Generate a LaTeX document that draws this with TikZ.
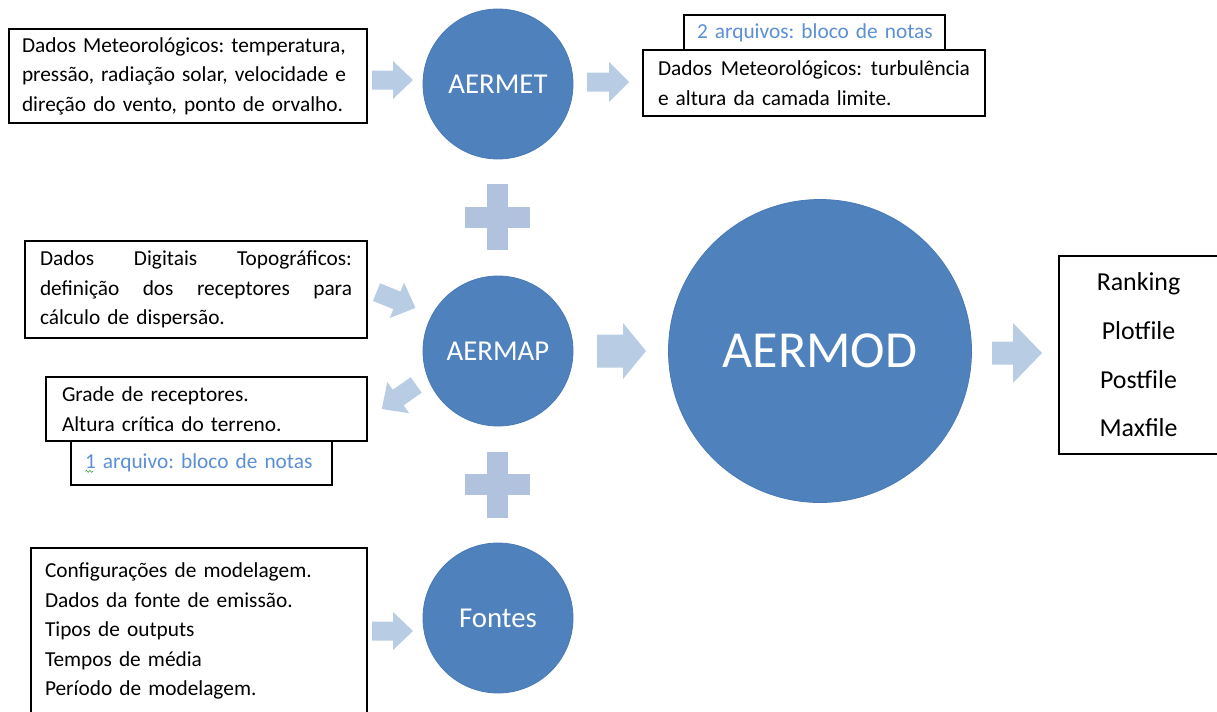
\documentclass[tikz,border=0pt]{standalone}
\usepackage{fontspec}
\setmainfont{Carlito}
\frenchspacing
\usetikzlibrary{calc,decorations.pathmorphing}
\newdimen\pxu \pxu=0.75pt
\definecolor{circfill}{HTML}{4F81BD}
\definecolor{circline}{HTML}{4A7AB6}
\definecolor{arrowc}{HTML}{B8CCE4}
\definecolor{plusc}{HTML}{B0C2DE}
\definecolor{notec}{HTML}{5B8FD6}
\definecolor{squig}{HTML}{4CA64C}
% #1 cx, #2 cy, #3 angle, #4 length, #5 head length, #6 shaft width, #7 head width
\newcommand{\blockarrow}[7]{%
  \begin{scope}[shift={(#1,#2)},rotate=#3]
    \fill[arrowc] ({-#4/2},{-#6/2}) -- ({#4/2-#5},{-#6/2}) -- ({#4/2-#5},{-#7/2})
      -- ({#4/2},0) -- ({#4/2-#5},{#7/2}) -- ({#4/2-#5},{#6/2}) -- ({-#4/2},{#6/2}) -- cycle;
  \end{scope}}
% #1 cx, #2 cy
\newcommand{\plussign}[2]{%
  \fill[plusc] ({#1-32.5},{#2-10.5}) rectangle ({#1+32.5},{#2+10.5});
  \fill[plusc] ({#1-10.5},{#2-33}) rectangle ({#1+10.5},{#2+33});}
\newcommand{\jline}[1]{\leavevmode\hbox to 312\pxu{#1}}
\tikzset{
  proc/.style={circle, fill=circfill, draw=circline, line width=0.6pt, text=white,
    inner sep=0pt, font=\fontsize{21.6}{24}\selectfont},
  txtbox/.style={draw=black, line width=0.9pt, fill=white, align=left, inner ysep=0pt,
    font=\fontsize{16}{22.1}\selectfont},
  notebox/.style={txtbox, text=notec},
  outbox/.style={draw=black, line width=0.9pt, fill=white, align=center, inner sep=0pt,
    font=\fontsize{19.4}{36.5}\selectfont}
}
\begin{document}
\begin{tikzpicture}[x=0.75pt,y=-0.75pt]
\useasboundingbox (0,0) rectangle (1217,711);
\clip (0,0) rectangle (1217,711);

% process circles
\node[proc, minimum size=150\pxu] (aermet) at (498,84) {AERMET};
\node[proc, minimum size=150\pxu] (aermap) at (498,351) {AERMAP};
\node[proc, minimum size=150\pxu] (fontes) at (498,618) {Fontes};
\node[proc, minimum size=303\pxu, font=\fontsize{39}{42}\selectfont] (aermod) at (820,351) {AERMOD};

% plus signs
\plussign{497.5}{217}
\plussign{497.5}{484.5}

% block arrows
\blockarrow{392.5}{80}{0}{41}{20}{19}{38}
\blockarrow{608}{82}{0}{42}{20}{19}{40}
\blockarrow{396}{300}{-22}{42}{20}{19}{38}
\blockarrow{399}{397}{215}{42}{20}{19}{38}
\blockarrow{621.5}{351}{0}{49}{23}{33}{56}
\blockarrow{392.5}{631}{0}{41}{20}{19}{38}
\blockarrow{1017}{353}{0}{50}{29}{23}{60}

% text boxes
\node[txtbox, minimum width=358\pxu, minimum height=94\pxu, text width=332\pxu, inner xsep=13\pxu] (met) at (188,76)
  {\mbox{Dados Meteorológicos: temperatura,}\\ \mbox{pressão, radiação solar, velocidade e}\\ \mbox{direção do vento, ponto de orvalho.}};

\node[notebox, minimum width=261\pxu, minimum height=35\pxu, text width=235\pxu, inner xsep=13\pxu] (note2) at (814.5,32.5)
  {\mbox{2 arquivos: bloco de notas}};
\node[txtbox, minimum width=342\pxu, minimum height=66\pxu, text width=312\pxu, inner xsep=15\pxu] (turb) at (814,83)
  {\jline{Dados\hfill Meteorológicos:\hfill turbulência}\\ \mbox{e altura da camada limite.}};

\node[txtbox, minimum width=342\pxu, minimum height=97\pxu, text width=312\pxu, inner xsep=15\pxu] (topo) at (196,289.5)
  {\jline{Dados\hfill Digitais\hfill Topográficos:}\\ \jline{definição\hfill dos\hfill receptores\hfill para}\\ \mbox{cálculo de dispersão.}};

\node[txtbox, minimum width=321\pxu, minimum height=64\pxu, text width=289\pxu, inner xsep=16\pxu] (grade) at (206.5,409)
  {\mbox{Grade de receptores.}\\ \mbox{Altura crítica do terreno.}};
\node[notebox, minimum width=261\pxu, minimum height=44\pxu, text width=233\pxu, inner xsep=14\pxu] (note1) at (201.5,463)
  {\mbox{1 arquivo: bloco de notas}};
\draw[squig, line width=0.5pt, decorate, decoration={snake, amplitude=0.7pt, segment length=2.6pt}]
  ([xshift=0.3pt,yshift=-2pt]note1.text) -- ++(6pt,0);

\node[txtbox, minimum width=336\pxu, minimum height=166\pxu, text width=308\pxu, inner xsep=14\pxu] (conf) at (199,631)
  {\mbox{Configurações de modelagem.}\\ \mbox{Dados da fonte de emissão.}\\ \mbox{Tipos de outputs}\\ \mbox{Tempos de média}\\ \mbox{Período de modelagem.}};

\node[outbox, minimum width=159\pxu, minimum height=198\pxu] (out) at (1138.5,355)
  {Ranking\\ Plotfile\\ Postfile\\ Maxfile};
\end{tikzpicture}
\end{document}
